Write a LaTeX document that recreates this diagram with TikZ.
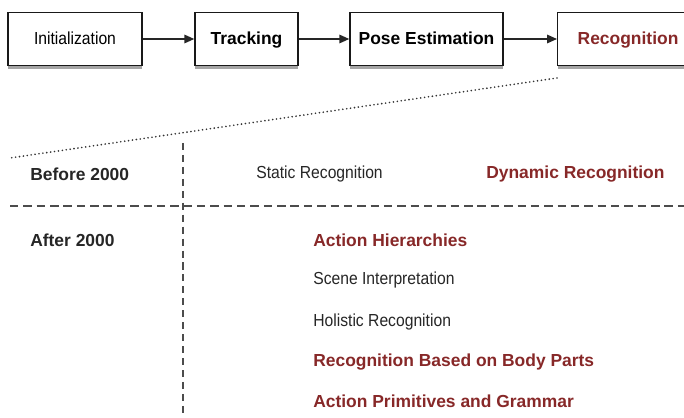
\documentclass[tikz,border=0pt]{standalone}
\usepackage{fontspec}
\setmainfont{Liberation Sans}
\newfontfamily\narrowfont[FakeStretch=0.9]{Liberation Sans}
\usetikzlibrary{arrows.meta,shadows}
\definecolor{recred}{RGB}{135,40,40}
\tikzset{
  stagebox/.style={draw=black!90, line width=1pt, fill=white, minimum height=1.325cm,
    text height=1.7ex, text depth=0.3ex,
    font=\fontsize{12.4}{14}\selectfont\bfseries,
    drop shadow={shadow xshift=0.3pt, shadow yshift=-2.5pt, fill=black!70, opacity=0.5}},
  flow/.style={line width=1.1pt, black!85, -{Triangle[length=7pt,width=6pt]}},
  era/.style={anchor=west, inner xsep=0pt, font=\fontsize{12.4}{14}\selectfont\bfseries, text=black!85},
  plain/.style={anchor=west, inner xsep=0pt, font=\fontsize{12.4}{14}\narrowfont, text=black!85},
  hot/.style={anchor=west, inner xsep=0pt, font=\fontsize{12.4}{14}\selectfont\bfseries, text=recred},
  split/.style={line width=0.8pt, black!70, dash pattern=on 5pt off 3.5pt},
}
\begin{document}
\begin{tikzpicture}
                \useasboundingbox (0,0) rectangle (17.100000,10.425000);
                \clip (0,0) rectangle (17.100000,10.425000);

                % Drawing the stages
                \node [stagebox, minimum width=3.350000cm, font=\fontsize{12.4}{14}\narrowfont] (init) at (1.875000,9.450000) {Initialization};%
                \node [stagebox, minimum width=2.575000cm] (track) at (6.162500,9.450000) {Tracking};%
                \node [stagebox, minimum width=3.825000cm] (pose) at (10.662500,9.450000) {Pose Estimation};%
                \node [stagebox, anchor=west, minimum width=3.800000cm, text width=2.800000cm, inner xsep=0.500000cm, align=left, text=recred] (recog) at (13.925000,9.450000) {Recognition};%

                % Drawing arrows between stages
                \draw [flow] (init) -- (track);%
                \draw [flow] (track) -- (pose);%
                \draw [flow] (pose) -- (recog);%

                % Drawing the zoom line
                \coordinate (zoomtop) at (13.925000,8.475000);%
                \coordinate (zoomend) at (0.250000,6.475000);%
                \draw [line width=1.3pt, black!80, line cap=round, dash pattern=on 0pt off 2.8pt] (zoomtop) -- (zoomend);%

                % Drawing the table rules
                \coordinate (coltop) at (4.575000,6.850000);%
                \coordinate (colbot) at (4.575000,0.000000);%
                \coordinate (rowleft) at (0.250000,5.275000);%
                \coordinate (rowright) at (17.100000,5.275000);%
                \draw [split] (coltop) -- (colbot);%
                \draw [split, dash pattern=on 6pt off 3.5pt] (rowleft) -- (rowright);%

                % Marking the row before 2000
                \node [era] (before) at (0.750000,6.075000) {Before 2000};%
                \node [plain] (static) at (6.400000,6.075000) {Static Recognition};%
                \node [hot] (dynamic) at (12.150000,6.075000) {Dynamic Recognition};%

                % Marking the row after 2000
                \node [era] (after) at (0.750000,4.425000) {After 2000};%
                \node [hot] (hier) at (7.825000,4.425000) {Action Hierarchies};%
                \node [plain] (scene) at (7.825000,3.425000) {Scene Interpretation};%
                \node [plain] (holistic) at (7.825000,2.375000) {Holistic Recognition};%
                \node [hot] (parts) at (7.825000,1.375000) {Recognition Based on Body Parts};%
                \node [hot] (grammar) at (7.825000,0.400000) {Action Primitives and Grammar};%
\end{tikzpicture}
\end{document}
